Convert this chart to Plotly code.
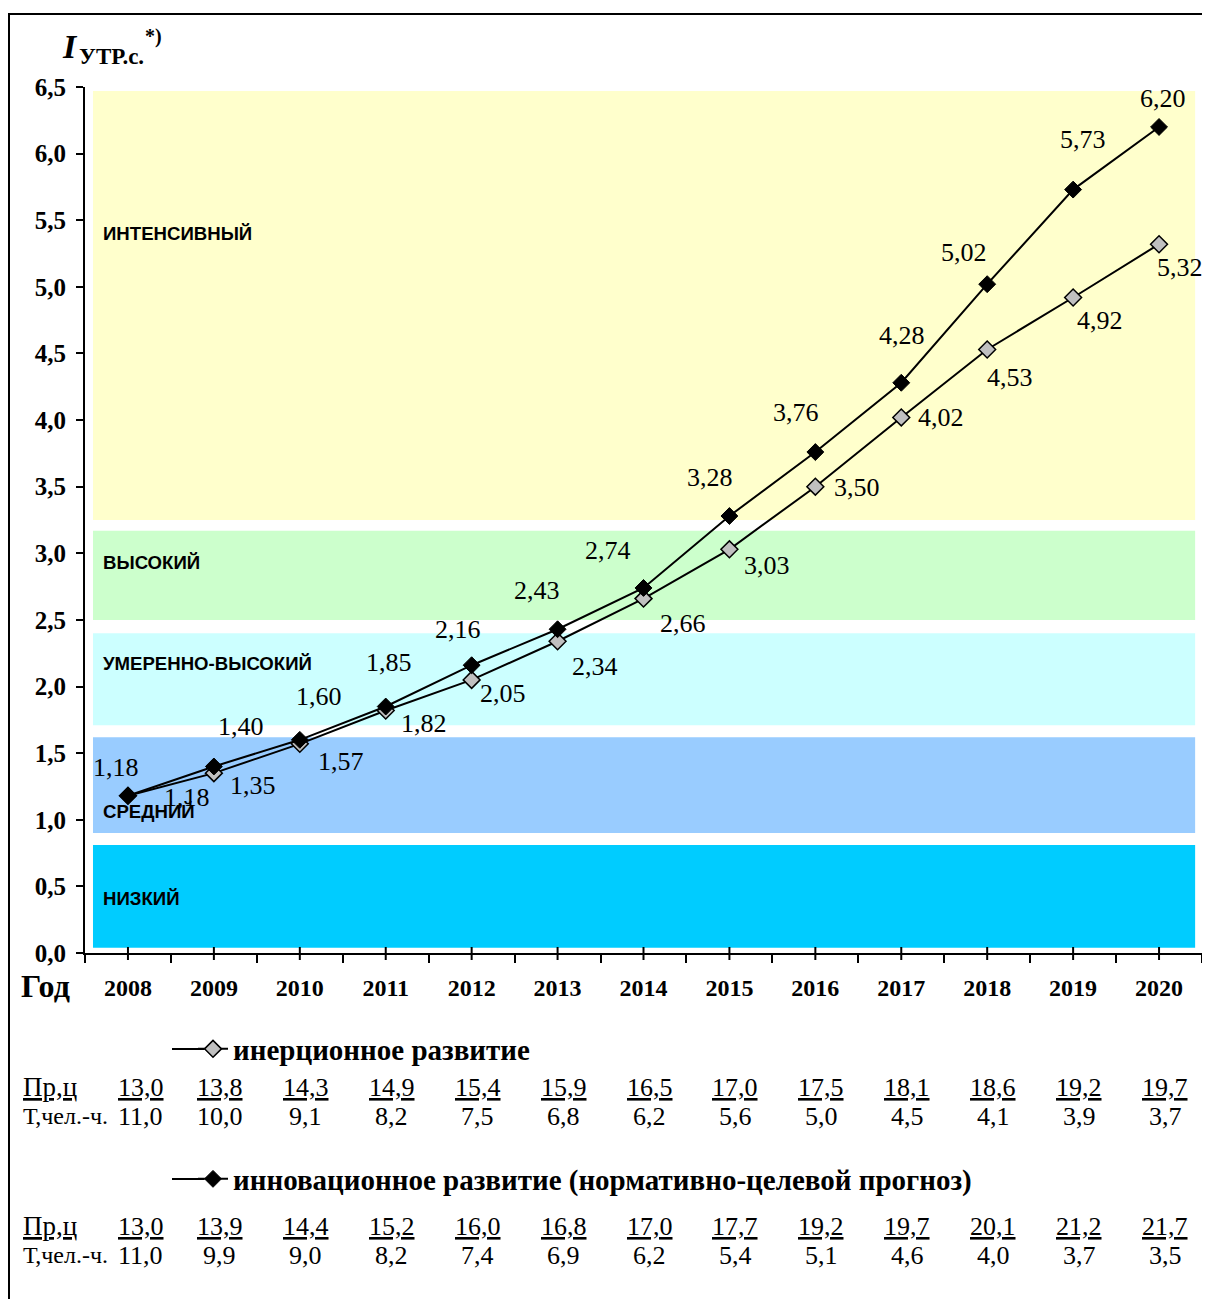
import plotly.graph_objects as go

years = [2008, 2009, 2010, 2011, 2012, 2013, 2014, 2015, 2016, 2017, 2018, 2019, 2020]
inertial = [1.18, 1.35, 1.57, 1.82, 2.05, 2.34, 2.66, 3.03, 3.50, 4.02, 4.53, 4.92, 5.32]
innovative = [1.18, 1.40, 1.60, 1.85, 2.16, 2.43, 2.74, 3.28, 3.76, 4.28, 5.02, 5.73, 6.20]

inert_pr = ["13,0", "13,8", "14,3", "14,9", "15,4", "15,9", "16,5", "17,0", "17,5", "18,1", "18,6", "19,2", "19,7"]
inert_t = ["11,0", "10,0", "9,1", "8,2", "7,5", "6,8", "6,2", "5,6", "5,0", "4,5", "4,1", "3,9", "3,7"]
innov_pr = ["13,0", "13,9", "14,4", "15,2", "16,0", "16,8", "17,0", "17,7", "19,2", "19,7", "20,1", "21,2", "21,7"]
innov_t = ["11,0", "9,9", "9,0", "8,2", "7,4", "6,9", "6,2", "5,4", "5,1", "4,6", "4,0", "3,7", "3,5"]

band_names = ["ИНТЕНСИВНЫЙ", "ВЫСОКИЙ", "УМЕРЕННО-ВЫСОКИЙ", "СРЕДНИЙ", "НИЗКИЙ"]
band_lo = [3.25, 2.50, 1.71, 0.90, 0.04]
band_hi = [6.47, 3.17, 2.40, 1.62, 0.81]
band_label_y = [5.4, 2.93, 2.17, 1.06, 0.41]
band_colors = ["#FFFFCC", "#CCFFCC", "#CCFFFF", "#99CCFF", "#00CCFF"]

ytick_vals = [0, 0.5, 1, 1.5, 2, 2.5, 3, 3.5, 4, 4.5, 5, 5.5, 6, 6.5]

# label pixel offsets (styling)
innov_dx = [-12, 27, 19, 3, -14, -21, -36, -19, -19, 1, -23, 10, 4]
innov_dy = [28, 40, 43, 44, 36, 39, 37, 39, 40, 47, 32, 50, 28]
inert_dx = [59, 39, 41, 38, 31, 37, 39, 38, 42, 40, 23, 27, 21]
inert_dy = [-2, -12, -18, -13, -14, -25, -25, -16, -1, 0, -28, -23, -23]

SERIF = "Liberation Serif, Times New Roman, serif"
SANS = "Liberation Sans, Arial, sans-serif"

# page has an 8px body margin; figure is sized so it fits the window
W, H = 1202, 1291
ML, MR, MT, MB = 77, 8, 79, 346
PW = W - ML - MR   # 1117
PH = H - MT - MB   # 866

def py(pix):
    """screen y (reference image) -> paper y"""
    return (953 - pix) / PH

def px(pix):
    """screen x (reference image) -> paper x"""
    return (pix - 85) / PW

def fmt(v):
    return f"{v:.2f}".replace(".", ",")

fig = go.Figure()
xs = list(range(len(years)))

fig.add_trace(go.Scatter(
    x=xs, y=inertial, mode="lines+markers", name="<b>инерционное развитие</b>",
    line=dict(color="black", width=2),
    marker=dict(symbol="diamond", size=13, color="#C0C0C0", line=dict(color="black", width=1.5)),
    legend="legend",
))
fig.add_trace(go.Scatter(
    x=xs, y=innovative, mode="lines+markers",
    name="<b>инновационное развитие (нормативно-целевой прогноз)</b>",
    line=dict(color="black", width=2),
    marker=dict(symbol="diamond", size=13, color="black", line=dict(color="black", width=1)),
    legend="legend2",
))

shapes = []
annotations = []

for name, lo, hi, ly, col in zip(band_names, band_lo, band_hi, band_label_y, band_colors):
    shapes.append(dict(type="rect", xref="x", yref="y", x0=-0.407, x1=12.42, y0=lo, y1=hi,
                       fillcolor=col, line=dict(width=0), layer="below"))
    annotations.append(dict(x=-0.395, y=ly, xref="x", yref="y", text=f"<b>{name}</b>",
                            showarrow=False, xanchor="left", yanchor="middle", xshift=7,
                            font=dict(family=SANS, size=18.6, color="black")))

for i, v in enumerate(innovative):
    annotations.append(dict(x=xs[i], y=v, xref="x", yref="y", text=fmt(v), showarrow=False,
                            xshift=innov_dx[i], yshift=innov_dy[i],
                            font=dict(family=SERIF, size=26, color="black")))
for i, v in enumerate(inertial):
    annotations.append(dict(x=xs[i], y=v, xref="x", yref="y", text=fmt(v), showarrow=False,
                            xshift=inert_dx[i], yshift=inert_dy[i],
                            font=dict(family=SERIF, size=26, color="black")))

# centre ticks crossing the axis
for i in xs:
    shapes.append(dict(type="line", xref="x", yref="paper", x0=i, x1=i,
                       y0=py(947), y1=py(960), line=dict(color="black", width=2)))

# frame
shapes.append(dict(type="line", xref="paper", yref="paper", x0=px(9), x1=px(9),
                   y0=py(13), y1=py(1310), line=dict(color="black", width=2)))
shapes.append(dict(type="line", xref="paper", yref="paper", x0=px(8), x1=px(1215),
                   y0=py(14), y1=py(14), line=dict(color="black", width=2)))

# legend line extensions
for ly in (1049, 1179):
    shapes.append(dict(type="line", xref="paper", yref="paper", x0=px(172), x1=px(204),
                       y0=py(ly), y1=py(ly), line=dict(color="black", width=2)))

# axis title
annotations.append(dict(x=px(60), y=py(47), xref="paper", yref="paper", text="<b><i>I</i></b>",
                        showarrow=False, xanchor="left", yanchor="middle",
                        font=dict(family=SERIF, size=34, color="black")))
annotations.append(dict(x=px(77), y=py(57), xref="paper", yref="paper", text="<b>УТР.с.</b>",
                        showarrow=False, xanchor="left", yanchor="middle",
                        font=dict(family=SERIF, size=23, color="black")))
annotations.append(dict(x=px(143), y=py(36), xref="paper", yref="paper", text="<b>*)</b>",
                        showarrow=False, xanchor="left", yanchor="middle",
                        font=dict(family=SERIF, size=20, color="black")))
annotations.append(dict(x=px(19), y=py(986), xref="paper", yref="paper", text="<b>Год</b>",
                        showarrow=False, xanchor="left", yanchor="middle",
                        font=dict(family=SERIF, size=32, color="black")))

# tables
rows = [(inert_pr, 1087, True), (inert_t, 1116, False), (innov_pr, 1226, True), (innov_t, 1255, False)]
for vals, ypix, und in rows:
    for i, t in enumerate(vals):
        txt = f"<u>{t}</u>" if und else t
        annotations.append(dict(x=xs[i], y=py(ypix), xref="x", yref="paper", text=txt,
                                showarrow=False, xanchor="center", yanchor="middle",
                                xshift=13 if i == 0 else 6,
                                font=dict(family=SERIF, size=26, color="black")))
    label = "<u>Пр,ц</u>" if und else "Т,чел.-ч."
    annotations.append(dict(x=px(21), y=py(ypix), xref="paper", yref="paper", text=label,
                            showarrow=False, xanchor="left", yanchor="middle",
                            font=dict(family=SERIF, size=27 if und else 24, color="black")))

fig.update_layout(
    width=W, height=H,
    margin=dict(l=ML, r=MR, t=MT, b=MB),
    paper_bgcolor="white", plot_bgcolor="white",
    showlegend=True,
    legend=dict(x=px(193), y=py(1049), xanchor="left", yanchor="middle",
                font=dict(family=SERIF, size=29, color="black"), bgcolor="rgba(0,0,0,0)",
                itemwidth=30),
    legend2=dict(x=px(193), y=py(1179), xanchor="left", yanchor="middle",
                 font=dict(family=SERIF, size=29, color="black"), bgcolor="rgba(0,0,0,0)",
                 itemwidth=30),
    shapes=shapes,
    annotations=annotations,
    xaxis=dict(
        range=[-0.5, 12.5], tickmode="array", tickvals=xs,
        ticktext=[f"<b>{y}</b>" for y in years],
        showgrid=False, zeroline=False, showline=True, linecolor="black", linewidth=2,
        ticks="", ticklabelstandoff=12,
        tickfont=dict(family=SERIF, size=24, color="black"),
        minor=dict(tickmode="array", tickvals=[i - 0.5 for i in range(14)], ticks="outside",
                   ticklen=8, tickwidth=2, tickcolor="black", showgrid=False),
        fixedrange=True,
    ),
    yaxis=dict(
        range=[0, 6.5], tickmode="array", tickvals=ytick_vals,
        ticktext=[f"<b>{v:.1f}</b>".replace(".", ",") for v in ytick_vals],
        showgrid=False, zeroline=False, showline=True, linecolor="black", linewidth=2,
        ticks="outside", ticklen=7, tickwidth=2, tickcolor="black", ticklabelstandoff=5,
        tickfont=dict(family=SERIF, size=25, color="black"),
        fixedrange=True,
    ),
)

fig.write_html("out.html")
